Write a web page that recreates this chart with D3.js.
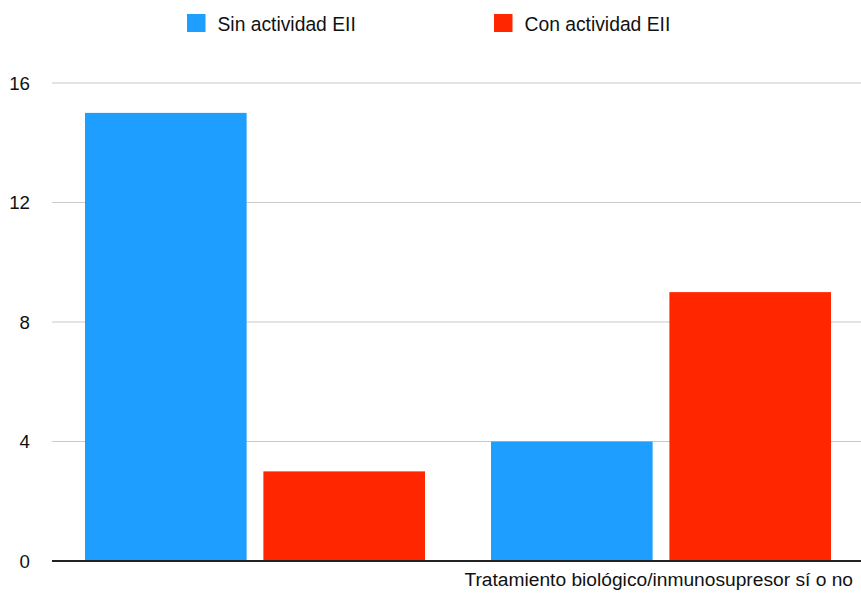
<!DOCTYPE html>
<html>
<head>
<meta charset="utf-8">
<script src="https://cdn.jsdelivr.net/npm/d3@7"></script>
<style>
  html, body { margin: 0; padding: 0; background: #fff; }
  svg { display: block; font-family: "Liberation Sans", Arial, Helvetica, sans-serif; }
</style>
</head>
<body>
<svg id="chart" width="861" height="593"></svg>
<script>
// Data
const categories = ["Sí", "No"];
const seriesNames = ["Sin actividad EII", "Con actividad EII"];
const sinActividad = [15, 4];
const conActividad = [3, 9];
const yTicks = [0, 4, 8, 12, 16];
const xTitle = "Tratamiento biológico/inmunosupresor sí o no";
const colors = ["#1E9FFF", "#FF2600"];

(function () {
  const svg = d3.select("#chart");
  const W = 861;
  const plotLeft = 52, plotTop = 83;
  const baseY = 561;

  const x0 = d3.scaleBand().domain(categories).range([plotLeft, 864]).paddingInner(0.1626).paddingOuter(0.0813);
  const x1 = d3.scaleBand().domain(seriesNames).range([0, x0.bandwidth()]).paddingInner(0.094);
  const y = d3.scaleLinear().domain([0, 16]).range([baseY, plotTop]);

  // Gridlines
  svg.append("g")
    .selectAll("line")
    .data(yTicks.filter(d => d !== 0))
    .join("line")
    .attr("x1", plotLeft).attr("x2", W)
    .attr("y1", d => y(d)).attr("y2", d => y(d))
    .attr("stroke", "#c9c9c9").attr("stroke-width", 1);

  // Y tick labels
  svg.append("g")
    .selectAll("text")
    .data(yTicks)
    .join("text")
    .attr("x", 30)
    .attr("y", d => y(d))
    .attr("dy", "0.36em")
    .attr("text-anchor", "end")
    .attr("font-size", 18.7)
    .attr("fill", "#111")
    .text(d => d);

  // Bars
  const rows = categories.map((c, i) => ({ cat: c, values: [sinActividad[i], conActividad[i]] }));
  const groups = svg.append("g").selectAll("g")
    .data(rows)
    .join("g")
    .attr("transform", d => `translate(${x0(d.cat)},0)`);

  groups.selectAll("rect")
    .data(d => d.values.map((v, j) => ({ name: seriesNames[j], value: v, j })))
    .join("rect")
    .attr("x", d => x1(d.name))
    .attr("width", x1.bandwidth())
    .attr("y", d => y(d.value))
    .attr("height", d => y(0) - y(d.value))
    .attr("fill", d => colors[d.j]);

  // Baseline
  svg.append("line")
    .attr("x1", plotLeft).attr("x2", W)
    .attr("y1", baseY).attr("y2", baseY)
    .attr("stroke", "#222").attr("stroke-width", 2);

  // X axis title
  svg.append("text")
    .attr("x", 853).attr("y", 586)
    .attr("text-anchor", "end")
    .attr("font-size", 19.2)
    .attr("fill", "#111")
    .text(xTitle);

  // Legend
  const legendX = [187, 494];
  const legend = svg.append("g").selectAll("g")
    .data(seriesNames)
    .join("g")
    .attr("transform", (d, i) => `translate(${legendX[i]},14)`);
  legend.append("rect").attr("width", 18.5).attr("height", 18).attr("fill", (d, i) => colors[i]);
  legend.append("text")
    .attr("x", 30.5).attr("y", 16.5)
    .attr("font-size", 19.3)
    .attr("fill", "#111")
    .text(d => d);
})();
</script>
</body>
</html>
